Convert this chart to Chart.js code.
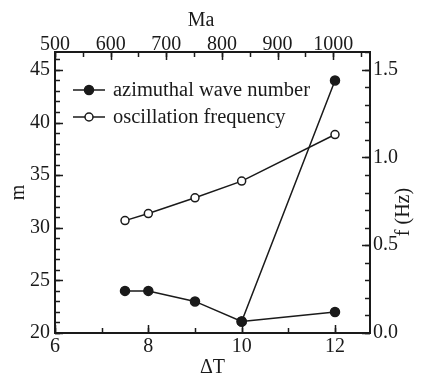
<!DOCTYPE html>
<html>
<head>
<meta charset="utf-8">
<script src="https://cdn.jsdelivr.net/npm/chart.js@4/dist/chart.umd.min.js"></script>
<style>
  html, body { margin: 0; padding: 0; background: #fff; }
</style>
</head>
<body>
<canvas id="chart" width="425" height="375"></canvas>
<script>
// data
const deltaT = [7.5, 8, 9, 10, 12];
const waveNumber = [24, 24, 23, 21.1, 44];
const branchDeltaT = [10, 12];
const branchWaveNumber = [21.1, 22];
const frequency = [0.64, 0.68, 0.77, 0.865, 1.13];

// tick labels
const deltaTTicks = [6, 8, 10, 12];
const maTicks = [500, 600, 700, 800, 900, 1000];
const mTicks = [20, 25, 30, 35, 40, 45];
const fTicks = [0, 0.5, 1, 1.5];

const INK = "#1a1a1a";
const FONT = "'Liberation Serif', 'Times New Roman', serif";

const range = (from, to, step) => {
  const out = [];
  for (let v = from; v <= to + 1e-9; v += step) out.push(+v.toFixed(4));
  return out;
};

const minorTicks = {
  x: range(6, 12.75, 1),
  x2: range(500, 1066, 50),
  y: range(20, 46.7, 1),
  y1: range(0, 1.6, 0.1),
};
const majorTicks = { x: deltaTTicks, x2: maTicks, y: mTicks, y1: fTicks };

const inwardTicks = {
  id: "inwardTicks",
  afterDraw(chart) {
    const { ctx, chartArea: a, scales } = chart;
    ctx.save();
    ctx.strokeStyle = INK;
    ctx.lineWidth = 1.5;
    const mark = (id, values, len) => {
      const s = scales[id];
      values.forEach((v) => {
        const p = Math.round(s.getPixelForValue(v)) + 0.5;
        ctx.beginPath();
        if (s.position === "bottom") { ctx.moveTo(p, a.bottom); ctx.lineTo(p, a.bottom - len); }
        if (s.position === "top") { ctx.moveTo(p, a.top); ctx.lineTo(p, a.top + len); }
        if (s.position === "left") { ctx.moveTo(a.left, p); ctx.lineTo(a.left + len, p); }
        if (s.position === "right") { ctx.moveTo(a.right, p); ctx.lineTo(a.right - len, p); }
        ctx.stroke();
      });
    };
    Object.keys(majorTicks).forEach((id) => {
      mark(id, minorTicks[id], 5);
      mark(id, majorTicks[id], 8);
    });

    // axis titles that chart.js can't place the way the figure does
    ctx.fillStyle = INK;
    ctx.font = "20px " + FONT;
    ctx.textAlign = "center";
    ctx.textBaseline = "middle";
    ctx.fillText("Ma", 201, 21);
    ctx.translate(404, 212);
    ctx.rotate(-Math.PI / 2);
    ctx.fillText("f (Hz)", 0, 0);
    ctx.restore();
  },
};

const insideLegend = {
  id: "insideLegend",
  afterDraw(chart) {
    const { ctx } = chart;
    const items = [chart.data.datasets[0], chart.data.datasets[2]];
    ctx.save();
    ctx.font = "20.5px " + FONT;
    ctx.textBaseline = "middle";
    items.forEach((ds, i) => {
      const y = 90 + i * 27;
      ctx.strokeStyle = ds.borderColor;
      ctx.lineWidth = ds.borderWidth;
      ctx.beginPath();
      ctx.moveTo(73, y);
      ctx.lineTo(105, y);
      ctx.stroke();
      ctx.beginPath();
      ctx.arc(89, y, ds.pointRadius, 0, Math.PI * 2);
      ctx.fillStyle = ds.pointBackgroundColor;
      ctx.fill();
      ctx.lineWidth = ds.pointBorderWidth;
      ctx.stroke();
      ctx.fillStyle = INK;
      ctx.fillText(ds.label, 113, y + 1);
    });
    ctx.restore();
  },
};

const tickFont = { family: FONT, size: 20 };
const border = { color: INK, width: 2 };
const grid = { display: false, drawTicks: false };
const setTicks = (values) => (scale) => {
  scale.ticks = values.map((value) => ({ value }));
};

const lineStyle = {
  showLine: true,
  borderColor: INK,
  borderWidth: 1.5,
  pointRadius: 4.5,
  pointBorderWidth: 1.5,
  pointBorderColor: INK,
};

new Chart(document.getElementById("chart"), {
  type: "scatter",
  data: {
    datasets: [
      {
        ...lineStyle,
        label: "azimuthal wave number",
        data: deltaT.map((x, i) => ({ x, y: waveNumber[i] })),
        pointBackgroundColor: INK,
        yAxisID: "y",
      },
      {
        ...lineStyle,
        label: "azimuthal wave number (branch)",
        data: branchDeltaT.map((x, i) => ({ x, y: branchWaveNumber[i] })),
        pointBackgroundColor: INK,
        yAxisID: "y",
      },
      {
        ...lineStyle,
        label: "oscillation frequency",
        data: deltaT.map((x, i) => ({ x, y: frequency[i] })),
        pointBackgroundColor: "#fff",
        pointRadius: 4,
        yAxisID: "y1",
      },
    ],
  },
  options: {
    responsive: false,
    animation: false,
    devicePixelRatio: 1,
    layout: { padding: 0 },
    plugins: {
      legend: { display: false },
      tooltip: { enabled: false },
    },
    scales: {
      x: {
        type: "linear",
        position: "bottom",
        min: 6,
        max: 12.75,
        grid,
        border,
        afterBuildTicks: setTicks(deltaTTicks),
        afterFit: (s) => { s.height = 42; },
        ticks: { font: tickFont, color: INK, padding: 2, maxRotation: 0, callback: (v) => v },
        title: { display: true, text: "ΔT", font: tickFont, color: INK, padding: { top: 0, bottom: -5 } },
      },
      x2: {
        type: "linear",
        position: "top",
        min: 500,
        max: 1066,
        grid,
        border,
        afterBuildTicks: setTicks(maTicks),
        afterFit: (s) => { s.height = 52; },
        ticks: { font: tickFont, color: INK, padding: -5, maxRotation: 0, callback: (v) => v },
      },
      y: {
        type: "linear",
        position: "left",
        min: 20,
        max: 46.7,
        grid,
        border,
        afterBuildTicks: setTicks(mTicks),
        afterFit: (s) => { s.width = 55; },
        ticks: { font: tickFont, color: INK, padding: 5, callback: (v) => v },
        title: { display: true, text: "m", font: tickFont, color: INK, padding: { top: 7, bottom: 0 } },
      },
      y1: {
        type: "linear",
        position: "right",
        min: 0,
        max: 1.6,
        grid,
        border,
        afterBuildTicks: setTicks(fTicks),
        afterFit: (s) => { s.width = 55; },
        ticks: { font: tickFont, color: INK, padding: 3, callback: (v) => v.toFixed(1) },
      },
    },
  },
  plugins: [inwardTicks, insideLegend],
});
</script>
</body>
</html>
